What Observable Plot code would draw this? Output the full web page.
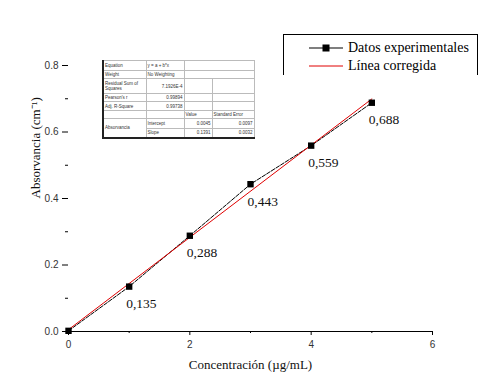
<!DOCTYPE html>
<html>
<head>
<meta charset="utf-8">
<script src="https://cdn.jsdelivr.net/npm/d3@7"></script>
<script src="https://cdn.jsdelivr.net/npm/@observablehq/plot@0.6"></script>
<style>
  body { margin: 0; background: #fff; }
  #wrap { position: relative; width: 494px; height: 386px; overflow: hidden; }
  #legend { position: absolute; left: 283px; top: 34px; width: 193px; height: 40px;
    border: 1px solid #000; border-bottom: none; font-family: "Liberation Serif", "Times New Roman", serif; font-size: 14px; }
  #legend .row { position: absolute; left: 24px; height: 16px; display: flex; align-items: center; }
  #legend svg { margin-right: 4px; }
  #tbl { position: absolute; left: 102px; top: 60px; width: 151px; border-collapse: collapse; table-layout: fixed;
    font-family: "Liberation Sans", Arial, sans-serif; font-size: 4.5px; color: #333; background: #fff;
    border-left: 2px solid #222; border-bottom: 2px solid #222; }
  #tbl td { border: 1px solid #bbb; padding: 0 1px; line-height: 5px; white-space: nowrap; overflow: hidden; }
  #tbl td.n { text-align: right; }
  #tbl td.w { white-space: normal; }
</style>
</head>
<body>
<div id="wrap"></div>
<script>
// Data
const concentracion = [0, 1, 2, 3, 4, 5];
const absorbancia = [0.002, 0.135, 0.288, 0.443, 0.559, 0.688];
const etiquetas = ["", "0,135", "0,288", "0,443", "0,559", "0,688"];
const xTicks = [0, 2, 4, 6];
const xMinor = [1, 3, 5];
const yTicks = [0, 0.2, 0.4, 0.6, 0.8];
const yMinor = [0.1, 0.3, 0.5, 0.7];
const serieNombres = ["Datos experimentales", "Línea corregida"];
const tablaFilas = [
  ["Equation", "y = a + b*x"],
  ["Weight", "No Weighting"],
  ["Residual Sum of Squares", "7.1926E-4"],
  ["Pearson's r", "0.99894"],
  ["Adj. R-Square", "0.99738"]
];
const tablaParam = [
  ["Intercept", "0.0045", "0.0097"],
  ["Slope", "0.1391", "0.0032"]
];

const data = concentracion.map((x, i) => ({x, y: absorbancia[i], label: etiquetas[i]}));

const serif = "Liberation Serif, Times New Roman, serif";
const sans = "Liberation Sans, Arial, sans-serif";

const chart = Plot.plot({
  width: 494,
  height: 386,
  marginLeft: 68,
  marginRight: 62,
  marginTop: 65,
  marginBottom: 55,
  style: {fontFamily: sans, fontSize: "10px", color: "#333", background: "white"},
  x: {domain: [0, 6]},
  y: {domain: [0, 0.8]},
  marks: [
    Plot.axisX({ticks: xTicks, tickSize: 4, tickPadding: 5, tickFormat: d3.format("d"), label: null, stroke: "#000", fill: "#333"}),
    Plot.axisX({ticks: xMinor, tickSize: 2, text: null, label: null, stroke: "#000"}),
    Plot.axisY({ticks: yTicks, tickSize: 6, tickPadding: 4, tickFormat: d3.format(".1f"), label: null, stroke: "#000", fill: "#333"}),
    Plot.axisY({ticks: yMinor, tickSize: 3, text: null, label: null, stroke: "#000"}),
    Plot.ruleY([0], {stroke: "#000", strokeWidth: 1.2}),
    Plot.line(data, {x: "x", y: "y", stroke: "#000", strokeWidth: 1, strokeDasharray: "4,1.5"}),
    Plot.linearRegressionY(data, {x: "x", y: "y", stroke: "#e00000", strokeWidth: 1, ci: 0}),
    Plot.dot(data, {x: "x", y: "y", symbol: "square", fill: "#000", r: 3.6}),
    Plot.text(data, {x: "x", y: "y", text: "label", textAnchor: "start", dx: -3, dy: 17,
      fontFamily: serif, fontSize: 13.5, fill: "#111"}),
    Plot.text(["Concentración (µg/mL)"], {frameAnchor: "bottom", dy: 37, fontFamily: serif, fontSize: 13, fill: "#111"}),
    Plot.text(["Absorvancia (cm⁻¹)"], {frameAnchor: "left", dx: -33, rotate: -90, fontFamily: serif, fontSize: 13, fill: "#111"})
  ]
});

const wrap = document.getElementById("wrap");
wrap.appendChild(chart);

// Legend
const legend = document.createElement("div");
legend.id = "legend";
legend.innerHTML = `
  <div class="row" style="top:5px">
    <svg width="36" height="10"><line x1="1" x2="35" y1="5" y2="5" stroke="#000" stroke-width="1.2"/><rect x="14.5" y="1.5" width="7" height="7" fill="#000"/></svg>
    <span>${serieNombres[0]}</span></div>
  <div class="row" style="top:23px">
    <svg width="36" height="10"><line x1="1" x2="35" y1="5" y2="5" stroke="#e00000" stroke-width="1"/></svg>
    <span>${serieNombres[1]}</span></div>`;
wrap.appendChild(legend);

// Fit table
const tbl = document.createElement("table");
tbl.id = "tbl";
const heights = [10, 8, 15, 8, 9];
let html = `<colgroup><col style="width:43px"><col style="width:38px"><col style="width:28px"><col style="width:42px"></colgroup>`;
tablaFilas.forEach((r, i) => {
  const numeric = i >= 2;
  html += `<tr style="height:${heights[i]}px"><td class="w">${r[0]}</td><td class="${numeric ? "n" : ""}">${r[1]}</td>` +
    (i < 2 ? `<td colspan="2"></td>` : `<td></td><td></td>`) + `</tr>`;
});
html += `<tr style="height:8px"><td></td><td></td><td>Value</td><td>Standard Error</td></tr>`;
tablaParam.forEach((r, i) => {
  html += `<tr style="height:${i === 0 ? 10 : 9}px">` + (i === 0 ? `<td rowspan="2">Absorvancia</td>` : "") +
    `<td>${r[0]}</td><td class="n">${r[1]}</td><td class="n">${r[2]}</td></tr>`;
});
tbl.innerHTML = html;
wrap.appendChild(tbl);
</script>
</body>
</html>
